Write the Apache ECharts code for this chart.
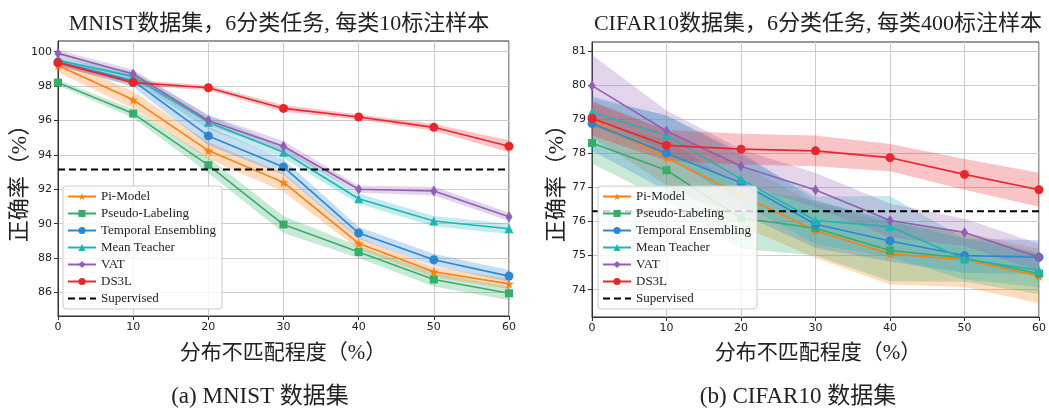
<!DOCTYPE html>
<html><head><meta charset="utf-8">
<script src="https://cdn.jsdelivr.net/npm/echarts@6/dist/echarts.min.js"></script>
<style>html,body{margin:0;padding:0;background:#fff}#c{width:1049px;height:410px}</style>
</head><body><div id="c"></div>
<script>
// ---- data ----
const mismatch = [0, 10, 20, 30, 40, 50, 60];
const methodNames = ['Pi-Model', 'Pseudo-Labeling', 'Temporal Ensembling', 'Mean Teacher', 'VAT', 'DS3L'];

// MNIST (accuracy %, mean)
const mnistPi     = [99.2, 97.2, 94.25, 92.4, 88.85, 87.2, 86.5];
const mnistPseudo = [98.2, 96.4, 93.4, 89.95, 88.35, 86.75, 85.95];
const mnistTE     = [99.4, 98.3, 95.1, 93.3, 89.45, 87.9, 86.95];
const mnistMT     = [99.5, 98.55, 95.9, 94.15, 91.45, 90.15, 89.7];
const mnistVAT    = [99.9, 98.7, 96.0, 94.5, 92.0, 91.9, 90.4];
const mnistDS3L   = [99.35, 98.2, 97.9, 96.7, 96.2, 95.6, 94.5];
const mnistSupervised = 93.15;
// MNIST band half-widths
const mnistPiStd     = [0.4, 0.5, 0.5, 0.55, 0.35, 0.3, 0.3];
const mnistPseudoStd = [0.15, 0.25, 0.45, 0.5, 0.35, 0.4, 0.4];
const mnistTEStd     = [0.2, 0.35, 0.55, 0.45, 0.35, 0.35, 0.35];
const mnistMTStd     = [0.2, 0.3, 0.4, 0.35, 0.3, 0.3, 0.3];
const mnistVATStd    = [0.2, 0.25, 0.3, 0.3, 0.2, 0.25, 0.25];
const mnistDS3LStd   = [0.2, 0.15, 0.15, 0.2, 0.15, 0.2, 0.35];
const mnistYTicks = [86, 88, 90, 92, 94, 96, 98, 100];

// CIFAR10 (accuracy %, mean)
const cifarPi     = [78.97, 77.87, 76.77, 75.73, 75.05, 74.88, 74.4];
const cifarPseudo = [78.3, 77.5, 76.1, 75.8, 75.15, 74.93, 74.47];
const cifarTE     = [78.87, 78.0, 77.13, 75.92, 75.43, 75.0, 74.95];
const cifarMT     = [79.2, 78.52, 77.24, 76.03, 75.85, 74.9, 74.57];
const cifarVAT    = [79.98, 78.65, 77.62, 76.92, 76.03, 75.68, 74.95];
const cifarDS3L   = [79.02, 78.23, 78.12, 78.07, 77.87, 77.38, 76.93];
const cifarSupervised = 76.3;
// CIFAR10 band half-widths
const cifarPiStd     = [0.5, 0.8, 0.9, 0.8, 0.9, 0.8, 0.8];
const cifarPseudoStd = [0.6, 0.9, 0.9, 0.8, 0.9, 0.7, 0.6];
const cifarTEStd     = [0.8, 1.1, 0.9, 0.7, 0.6, 0.5, 0.5];
const cifarMTStd     = [0.4, 0.6, 0.7, 0.7, 0.9, 0.6, 0.5];
const cifarVATStd    = [0.9, 0.6, 0.5, 0.5, 0.5, 0.4, 0.4];
const cifarDS3LStd   = [0.5, 0.45, 0.45, 0.45, 0.4, 0.45, 0.5];
const cifarYTicks = [74, 75, 76, 77, 78, 79, 80, 81];

// ---- styling ----
const colors = ['#ff7f0e', '#38ad6a', '#2e86d1', '#20b5b5', '#925fb5', '#e8262b'];
const STAR = 'path://M50,0 L61,35 L98,35 L68,57 L79,91 L50,70 L21,91 L32,57 L2,35 L39,35 Z';
const symbols = [STAR, 'rect', 'circle', 'triangle', 'diamond', 'circle'];
const symbolSizes = [10, 8, 9, 9, [7, 11], 9];
const SERIF = "'Liberation Serif','Noto Sans CJK SC',serif";
const SANS = "'DejaVu Sans',sans-serif";

const datasets = [
  { means: [mnistPi, mnistPseudo, mnistTE, mnistMT, mnistVAT, mnistDS3L],
    stds: [mnistPiStd, mnistPseudoStd, mnistTEStd, mnistMTStd, mnistVATStd, mnistDS3LStd],
    sup: mnistSupervised },
  { means: [cifarPi, cifarPseudo, cifarTE, cifarMT, cifarVAT, cifarDS3L],
    stds: [cifarPiStd, cifarPseudoStd, cifarTEStd, cifarMTStd, cifarVATStd, cifarDS3LStd],
    sup: cifarSupervised }
];

const series = [];
datasets.forEach((ds, gi) => {
  ds.means.forEach((m, k) => {
    const sd = ds.stds[k];
    const bandData = mismatch.map((x, i) => [x, m[i] - sd[i], m[i] + sd[i]]);
    series.push({
      type: 'custom', name: 'band' + gi + '_' + k, xAxisIndex: gi, yAxisIndex: gi,
      z: 2 + k, silent: true,
      encode: { x: 0, y: [1, 2] },
      data: bandData,
      renderItem: function (params, api) {
        if (params.dataIndex !== 0) return null;
        const lower = bandData.map(d => api.coord([d[0], d[1]]));
        const upper = bandData.map(d => api.coord([d[0], d[2]])).reverse();
        return { type: 'polygon', shape: { points: lower.concat(upper) },
          style: { fill: colors[k], opacity: 0.27 } };
      }
    });
  });
  ds.means.forEach((m, k) => {
    series.push({
      type: 'line', name: methodNames[k], xAxisIndex: gi, yAxisIndex: gi,
      z: 10 + k,
      data: mismatch.map((x, i) => [x, m[i]]),
      symbol: symbols[k], symbolSize: symbolSizes[k], showSymbol: true,
      lineStyle: { width: 1.6, color: colors[k] },
      itemStyle: { color: colors[k] },
      animation: false
    });
  });
  series.push({
    type: 'line', name: 'Supervised', xAxisIndex: gi, yAxisIndex: gi, z: 20,
    data: mismatch.map(x => [x, ds.sup]), symbol: 'none',
    lineStyle: { width: 2, color: '#000', type: [7, 4] }, itemStyle: { color: '#000' },
    animation: false
  });
});

function xAxis(gi) {
  return { type: 'value', gridIndex: gi, min: 0, max: 60, interval: 10,
    axisLine: { show: true, lineStyle: { color: '#333', width: 1 } },
    axisTick: { show: true, length: 4, lineStyle: { color: '#333' } },
    axisLabel: { fontFamily: SANS, fontSize: 11, color: '#222', margin: 6 },
    splitLine: { show: true, lineStyle: { color: '#cccccc', width: 1 } } };
}
function yAxis(gi, min, max, step, ticks) {
  return { type: 'value', gridIndex: gi, min: min, max: max, minInterval: step, maxInterval: step,
    axisLine: { show: true, lineStyle: { color: '#333', width: 1 } },
    axisTick: { show: true, length: 4, lineStyle: { color: '#333' }, customValues: ticks },
    axisLabel: { fontFamily: SANS, fontSize: 11, color: '#222', margin: 6, customValues: ticks },
    splitLine: { show: true, lineStyle: { color: '#cccccc', width: 1 } } };
}
function legend(left) {
  const items = methodNames.map(n => ({ name: n }));
  items.push({ name: 'Supervised', itemStyle: { color: 'rgba(0,0,0,0)', borderWidth: 0, opacity: 0 } });
  return { orient: 'vertical', left: left, top: 186, itemGap: 4, itemWidth: 28, itemHeight: 9,
    z: 50,
    padding: [4, 6, 4, 4], backgroundColor: 'rgba(255,255,255,0.8)', borderColor: '#cccccc',
    borderWidth: 1, borderRadius: 3,
    textStyle: { fontFamily: SERIF, fontSize: 13, color: '#222' },
    data: items, selectedMode: false };
}
function txt(text, x, y, size, rot) {
  return { type: 'text', x: x, y: y, rotation: rot || 0, z: 100,
    style: { text: text, font: size + 'px ' + SERIF, fill: '#222', align: 'center', verticalAlign: 'middle' } };
}

const chart = echarts.init(document.getElementById('c'), null, { renderer: 'canvas' });
chart.setOption({
  animation: false,
  backgroundColor: '#fff',
  grid: [
    { left: 58, top: 41, width: 451, height: 275, show: true, borderColor: '#333', borderWidth: 1, backgroundColor: 'transparent' },
    { left: 592, top: 42, width: 453, height: 275, show: true, borderColor: '#333', borderWidth: 1, backgroundColor: 'transparent' }
  ],
  xAxis: [xAxis(0), xAxis(1)],
  yAxis: [yAxis(0, 84.63, 100.62, 2, mnistYTicks), yAxis(1, 73.2, 81.26, 1, cifarYTicks)],
  legend: [legend(63), legend(598)],
  series: series,
  graphic: [
    txt('MNIST数据集，6分类任务, 每类10标注样本', 279, 24, 22),
    txt('CIFAR10数据集，6分类任务, 每类400标注样本', 818, 24, 22),
    txt('正确率（%）', 20, 178, 22, Math.PI / 2),
    txt('正确率（%）', 557, 178, 22, Math.PI / 2),
    txt('分布不匹配程度（%）', 283, 353, 21),
    txt('分布不匹配程度（%）', 818, 353, 21),
    txt('(a) MNIST 数据集', 260, 397, 23),
    txt('(b) CIFAR10 数据集', 798, 397, 23)
  ]
});
</script></body></html>
